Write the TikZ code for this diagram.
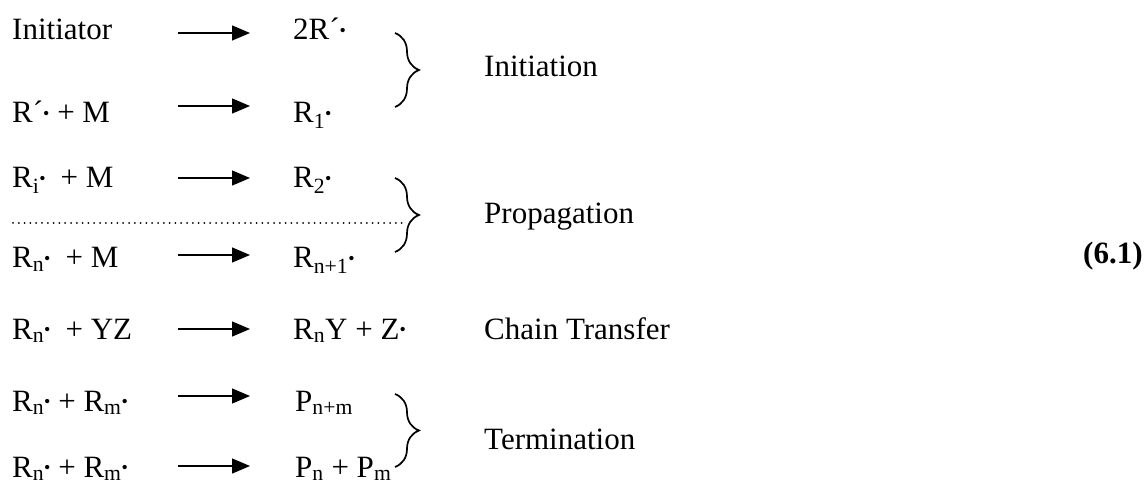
\documentclass[tikz,border=0pt]{standalone}
\usepackage{fontspec}
\setmainfont{Liberation Serif}
\usetikzlibrary{arrows.meta,decorations.pathreplacing}
% radical dot
\newcommand\rad{\raisebox{3.5pt}{\fontsize{18}{18}\selectfont •}}
\newcommand\sub[1]{\textsubscript{#1}}
\begin{document}
\begin{tikzpicture}[x=1pt,y=-1pt,
  txt/.style={inner sep=0pt, anchor=base west, font=\fontsize{31}{37}\selectfont},
  rxn/.style={line width=1.3pt, -{Triangle[length=18pt,width=15pt]}},
  grp/.style={line width=1.7pt, decorate, decoration={brace, amplitude=24pt}},
  sep/.style={line width=2pt, line cap=round, dash pattern=on 0pt off 5.8pt}]
\useasboundingbox (0,0) rectangle (1145,486);

% reactants
\node[txt] (l1) at (12,40)  {Initiator};
\node[txt] (l2) at (12,123) {R´\rad{} + M};
\node[txt] (l3) at (12,188) {R\sub{i}\rad\hspace{15pt}+ M};
\node[txt] (l4) at (12,268) {R\sub{n}\rad\hspace{15pt}+ M};
\node[txt] (l5) at (12,339) {R\sub{n}\rad\hspace{15pt}+ YZ};
\node[txt] (l6) at (12,411) {R\sub{n}\rad{} + R\sub{m}\rad};
\node[txt] (l7) at (12,477) {R\sub{n}\rad{} + R\sub{m}\rad};

% products
\node[txt] (p1) at (293,40)  {2R´\rad};
\node[txt] (p2) at (293,123) {R\sub{1}\rad};
\node[txt] (p3) at (293,188) {R\sub{2}\rad};
\node[txt] (p4) at (293,268) {R\sub{n+1}\rad};
\node[txt] (p5) at (293,339) {R\sub{n}Y + Z\rad};
\node[txt] (p6) at (295,411) {P\sub{n+m}};
\node[txt] (p7) at (295,477) {P\sub{n} + P\sub{m}};

% reaction arrows
\foreach \i/\y in {1/33,2/106,3/178,4/255,5/329,6/396,7/466}{
  \coordinate (a\i s) at (178,\y);
  \coordinate (a\i e) at (250,\y);
  \draw[rxn] (a\i s) -- (a\i e);
}

% separator between propagation steps
\coordinate (d0) at (13,223);
\coordinate (d1) at (402,223);
\draw[sep] (d0) -- (d1);

% braces grouping the steps
\coordinate (b1t) at (395,33);  \coordinate (b1b) at (395,107);
\coordinate (b2t) at (395,178); \coordinate (b2b) at (395,252);
\coordinate (b3t) at (395,394); \coordinate (b3b) at (395,467);
\draw[grp] (b1t) -- (b1b);
\draw[grp] (b2t) -- (b2b);
\draw[grp] (b3t) -- (b3b);

% step names
\node[txt] (g1) at (484,77)  {Initiation};
\node[txt] (g2) at (484,224) {Propagation};
\node[txt] (g3) at (484,339) {Chain Transfer};
\node[txt] (g4) at (484,449) {Termination};

% equation number
\node[txt, font=\fontsize{31}{37}\selectfont\bfseries] (eq) at (1083,264) {(6.1)};
\end{tikzpicture}
\end{document}
